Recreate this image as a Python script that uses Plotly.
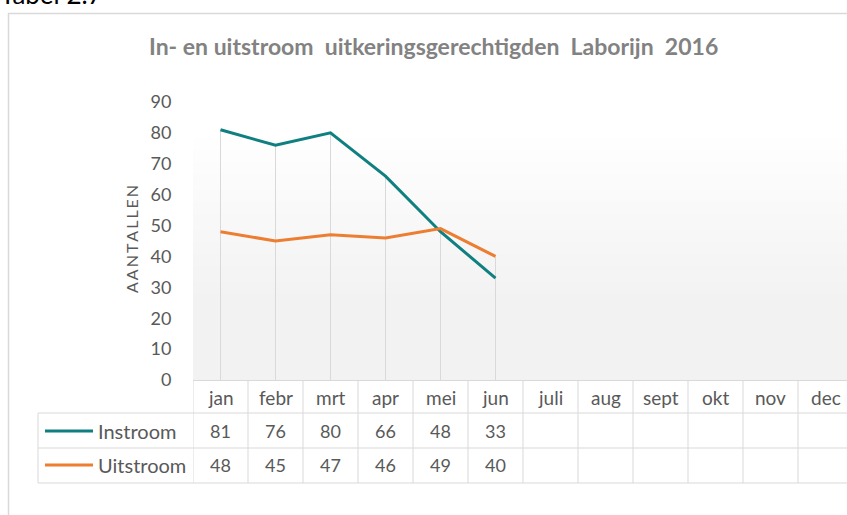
import plotly.graph_objects as go

months = ["jan", "febr", "mrt", "apr", "mei", "jun", "juli", "aug", "sept", "okt", "nov", "dec"]
instroom = [81, 76, 80, 66, 48, 33, None, None, None, None, None, None]
uitstroom = [48, 45, 47, 46, 49, 40, None, None, None, None, None, None]
series_names = ["Instroom", "Uitstroom"]
y_ticks = [0, 10, 20, 30, 40, 50, 60, 70, 80, 90]

W, H = 847, 515
L, R, T, B = 193, 0, 102, 135
PW, PH = W - L - R, H - T - B
CAT_W = 55

def px(x):
    return (x - L) / PW

def py(y):
    return (H - B - y) / PH

TEAL = "#0f7f80"
ORANGE = "#ed7d31"
GRID = "#d9d9d9"
TXT = "#595959"
FONT = "Lato"

fig = go.Figure()

# drop lines from the highest value in each month down to the axis
dx, dy = [], []
for m, a, b in zip(months, instroom, uitstroom):
    vals = [v for v in (a, b) if v is not None]
    if vals:
        dx += [m, m, None]
        dy += [max(vals), 0, None]
fig.add_trace(go.Scatter(x=dx, y=dy, mode="lines", line=dict(color=GRID, width=1),
                         hoverinfo="skip", showlegend=False))

for name, vals, col in [(series_names[0], instroom, TEAL), (series_names[1], uitstroom, ORANGE)]:
    fig.add_trace(go.Scatter(x=months, y=vals, mode="lines", name=name,
                             line=dict(color=col, width=3), showlegend=False))

shapes = []
# gradient plot area background
y0g, y1g = 130, 300
top_c, bot_c = 255, 242
step = 4
y = T
while y < H - B:
    yc = y + step / 2
    t = min(max((yc - y0g) / (y1g - y0g), 0), 1)
    c = round(top_c + (bot_c - top_c) * t)
    shapes.append(dict(type="rect", xref="paper", yref="paper", x0=0, x1=1,
                       y0=py(min(y + step + 0.5, H - B)), y1=py(y), fillcolor=f"rgb({c},{c},{c})",
                       line=dict(width=0), layer="below"))
    y += step

# chart border
shapes.append(dict(type="rect", xref="paper", yref="paper", x0=px(8.5), x1=px(1000),
                   y0=py(700), y1=py(13.5), line=dict(color=GRID, width=1.5), fillcolor="rgba(0,0,0,0)"))

# data table lines
row_y = [380, 413, 448, 483]
for yy in row_y[1:]:
    shapes.append(dict(type="line", xref="paper", yref="paper", x0=px(38), x1=px(900),
                       y0=py(yy), y1=py(yy), line=dict(color=GRID, width=1)))
shapes.append(dict(type="line", xref="paper", yref="paper", x0=px(38), x1=px(38),
                   y0=py(413), y1=py(483), line=dict(color=GRID, width=1)))
for i in range(len(months) + 1):
    shapes.append(dict(type="line", xref="x", yref="paper", x0=i - 0.5, x1=i - 0.5,
                       y0=py(380), y1=py(483), line=dict(color=GRID, width=1)))

annotations = []
# month header
for m in months:
    annotations.append(dict(x=m, y=py(397), xref="x", yref="paper", text=m, showarrow=False,
                            xanchor="center", yanchor="middle",
                            font=dict(family=FONT, size=19, color=TXT)))
# values
for row_c, vals in [(431, instroom), (465, uitstroom)]:
    for m, v in zip(months, vals):
        if v is not None:
            annotations.append(dict(x=m, y=py(row_c), xref="x", yref="paper", text=str(v),
                                    xanchor="center", yanchor="middle",
                                    showarrow=False, font=dict(family=FONT, size=18, color=TXT)))
# legend keys
for row_c, name, col in [(431, series_names[0], TEAL), (465, series_names[1], ORANGE)]:
    shapes.append(dict(type="line", xref="paper", yref="paper", x0=px(45), x1=px(93),
                       y0=py(row_c), y1=py(row_c), line=dict(color=col, width=3)))
    annotations.append(dict(x=px(96), y=py(row_c), xref="paper", yref="paper", text=name,
                            xanchor="left", yanchor="middle", showarrow=False,
                            font=dict(family=FONT, size=20, color=TXT)))

# title
annotations.append(dict(x=px(433), y=py(46), xref="paper", yref="paper",
                        xanchor="center", yanchor="middle",
                        text="In- en uitstroom\u00a0 uitkeringsgerechtigden\u00a0 Laborijn\u00a0 2016",
                        showarrow=False, font=dict(family=FONT, size=23, color="#828282", weight="bold")))
# y-axis title
annotations.append(dict(x=px(131), y=py(239), xref="paper", yref="paper",
                        xanchor="center", yanchor="middle",
                        text="\u2009".join("AANTALLEN"), textangle=-90, showarrow=False,
                        font=dict(family=FONT, size=16, color=TXT)))
# cut-off caption at top
annotations.append(dict(x=px(-2), y=py(12), xref="paper", yref="paper", text="Tabel 2.7",
                        xanchor="left", yanchor="bottom", showarrow=False,
                        font=dict(family=FONT, size=26, color="#000000")))

fig.update_layout(
    width=W, height=H,
    margin=dict(l=L, r=R, t=T, b=B),
    paper_bgcolor="white", plot_bgcolor="white",
    shapes=shapes, annotations=annotations,
    xaxis=dict(type="category", categoryorder="array", categoryarray=months,
               range=[-0.5, PW / CAT_W - 0.5], showgrid=False, showticklabels=False,
               showline=True, linecolor=GRID, linewidth=1, zeroline=False, fixedrange=True),
    yaxis=dict(range=[0, 90], tickvals=y_ticks, showgrid=False, zeroline=False, showline=False,
               ticks="outside", ticklen=17, tickcolor="rgba(0,0,0,0)",
               tickfont=dict(family=FONT, size=18, color=TXT), fixedrange=True),
    showlegend=False,
)

fig.write_html("out.html", config={"displayModeBar": False},
               post_script="document.body.style.margin='0';document.body.style.overflow='hidden';")
